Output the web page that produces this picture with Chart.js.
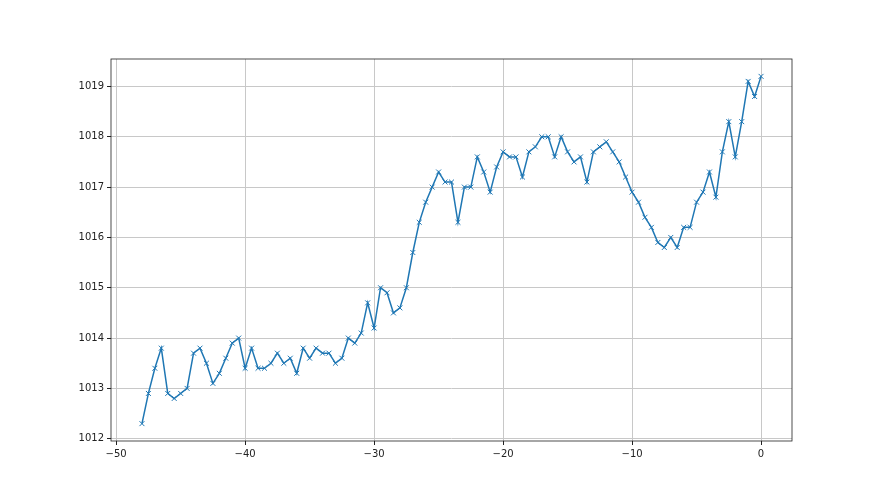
<!DOCTYPE html>
<html>
<head>
<meta charset="utf-8">
<script src="https://cdn.jsdelivr.net/npm/chart.js@4"></script>
<style>
  html, body { margin: 0; padding: 0; background: #fff; }
  #wrap { width: 880px; height: 495px; }
</style>
</head>
<body>
<div id="wrap"><canvas id="chart" width="880" height="495"></canvas></div>
<script>
// hours relative to now, every half hour
const hours = [];
for (let h = -48; h <= 0; h += 0.5) hours.push(h);

// pressure readings (hPa)
const pressure = [
  1012.3, 1012.9, 1013.4, 1013.8, 1012.9, 1012.8, 1012.9, 1013.0, 1013.7, 1013.8,
  1013.5, 1013.1, 1013.3, 1013.6, 1013.9, 1014.0, 1013.4, 1013.8, 1013.4, 1013.4,
  1013.5, 1013.7, 1013.5, 1013.6, 1013.3, 1013.8, 1013.6, 1013.8, 1013.7, 1013.7,
  1013.5, 1013.6, 1014.0, 1013.9, 1014.1, 1014.7, 1014.2, 1015.0, 1014.9, 1014.5,
  1014.6, 1015.0, 1015.7, 1016.3, 1016.7, 1017.0, 1017.3, 1017.1, 1017.1, 1016.3,
  1017.0, 1017.0, 1017.6, 1017.3, 1016.9, 1017.4, 1017.7, 1017.6, 1017.6, 1017.2,
  1017.7, 1017.8, 1018.0, 1018.0, 1017.6, 1018.0, 1017.7, 1017.5, 1017.6, 1017.1,
  1017.7, 1017.8, 1017.9, 1017.7, 1017.5, 1017.2, 1016.9, 1016.7, 1016.4, 1016.2,
  1015.9, 1015.8, 1016.0, 1015.8, 1016.2, 1016.2, 1016.7, 1016.9, 1017.3, 1016.8,
  1017.7, 1018.3, 1017.6, 1018.3, 1019.1, 1018.8, 1019.2
];

const xTicks = [-50, -40, -30, -20, -10, 0];
const yTicks = [1012, 1013, 1014, 1015, 1016, 1017, 1018, 1019];

const fmt = v => (v < 0 ? '\u2212' + Math.abs(v) : String(v));

// matplotlib style box around the axes
const frame = {
  id: 'frame',
  afterDraw(chart) {
    const a = chart.chartArea, c = chart.ctx;
    c.save();
    c.strokeStyle = '#222';
    c.lineWidth = 0.8;
    c.strokeRect(a.left, a.top, a.right - a.left, a.bottom - a.top);
    c.restore();
  }
};

const tickFont = { family: 'DejaVu Sans', size: 10 };

new Chart(document.getElementById('chart').getContext('2d'), {
  type: 'scatter',
  data: {
    datasets: [{
      data: hours.map((h, i) => ({ x: h, y: pressure[i] })),
      showLine: true,
      borderColor: '#1f77b4',
      backgroundColor: '#1f77b4',
      borderWidth: 1.5,
      pointStyle: 'crossRot',
      pointRadius: 3.5,
      pointBorderWidth: 1,
      pointHoverRadius: 3.5,
      tension: 0
    }]
  },
  options: {
    responsive: false,
    animation: false,
    layout: { padding: { top: 59, right: 88, left: 0, bottom: 0 } },
    plugins: { legend: { display: false }, tooltip: { enabled: false } },
    scales: {
      x: {
        type: 'linear',
        min: -50.4,
        max: 2.4,
        afterBuildTicks: s => { s.ticks = xTicks.map(v => ({ value: v })); },
        afterFit: s => { s.height = 54; },
        grid: { color: '#c8c8c8', lineWidth: 1, tickColor: '#222', tickLength: 4 },
        border: { display: false },
        ticks: { font: tickFont, color: '#222', padding: 3, maxRotation: 0, callback: v => fmt(v) }
      },
      y: {
        type: 'linear',
        min: 1011.955,
        max: 1019.545,
        afterBuildTicks: s => { s.ticks = yTicks.map(v => ({ value: v })); },
        afterFit: s => { s.width = 111; },
        grid: { color: '#c8c8c8', lineWidth: 1, tickColor: '#222', tickLength: 4 },
        border: { display: false },
        ticks: { font: tickFont, color: '#222', padding: 3, callback: v => fmt(v) }
      }
    }
  },
  plugins: [frame]
});
</script>
</body>
</html>
